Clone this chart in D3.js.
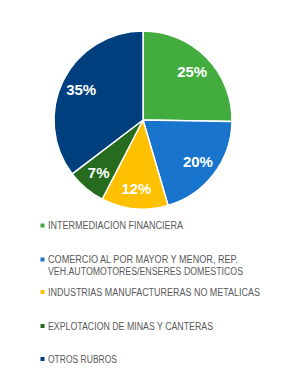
<!DOCTYPE html>
<html><head><meta charset="utf-8">
<script src="https://cdn.jsdelivr.net/npm/d3@7"></script>
<style>body{margin:0;background:#fff}svg{display:block}</style>
</head><body>
<script>
const categories = ["INTERMEDIACION FINANCIERA","COMERCIO AL POR MAYOR Y MENOR, REP.\nVEH.AUTOMOTORES/ENSERES DOMESTICOS","INDUSTRIAS MANUFACTURERAS NO METALICAS","EXPLOTACION DE MINAS Y CANTERAS","OTROS RUBROS"];
const values = [25, 20, 12, 7, 35];
const labels = ["25%","20%","12%","7%","35%"];
const colors = ["#43AC3F","#1874CD","#FFC000","#266B1E","#003F7D"];

const W=290,H=370;
const svg=d3.select("body").append("svg").attr("width",W).attr("height",H);
const cx=143, cy=120, R=89;
const pie=d3.pie().sort(null).value(d=>d)(values);
const arc=d3.arc().innerRadius(0).outerRadius(R);
const labelArc=d3.arc().innerRadius(69).outerRadius(69);
const g=svg.append("g").attr("transform",`translate(${cx},${cy})`);
g.selectAll("path").data(pie).join("path").attr("d",arc)
 .attr("fill",(d,i)=>colors[i]).attr("stroke","#fff").attr("stroke-width",1.5);
g.selectAll("text").data(pie).join("text")
 .attr("transform",d=>`translate(${labelArc.centroid(d)})`)
 .attr("text-anchor","middle").attr("dy","0.36em")
 .attr("fill","#fff").attr("font-family","Liberation Sans, Arial, sans-serif")
 .attr("font-weight","bold").attr("font-size",15).text((d,i)=>labels[i]);

const baselines=[[229],[263,275],[295.5],[329.5],[362.5]];
const widths=[[135],[190,195],[212],[165],[69]];
const lg=svg.append("g");
categories.forEach((c,i)=>{
  const lines=c.split("\n");
  lg.append("rect").attr("x",40.5).attr("y",baselines[i][0]-5.5).attr("width",4).attr("height",4).attr("fill",colors[i]);
  lines.forEach((l,j)=>{
    lg.append("text").attr("x",48).attr("y",baselines[i][j])
      .attr("font-family","Liberation Sans, Arial, sans-serif").attr("font-size",10)
      .attr("fill","#595959").attr("textLength",widths[i][j]).attr("lengthAdjust","spacingAndGlyphs")
      .text(l);
  });
});
</script>
</body></html>
